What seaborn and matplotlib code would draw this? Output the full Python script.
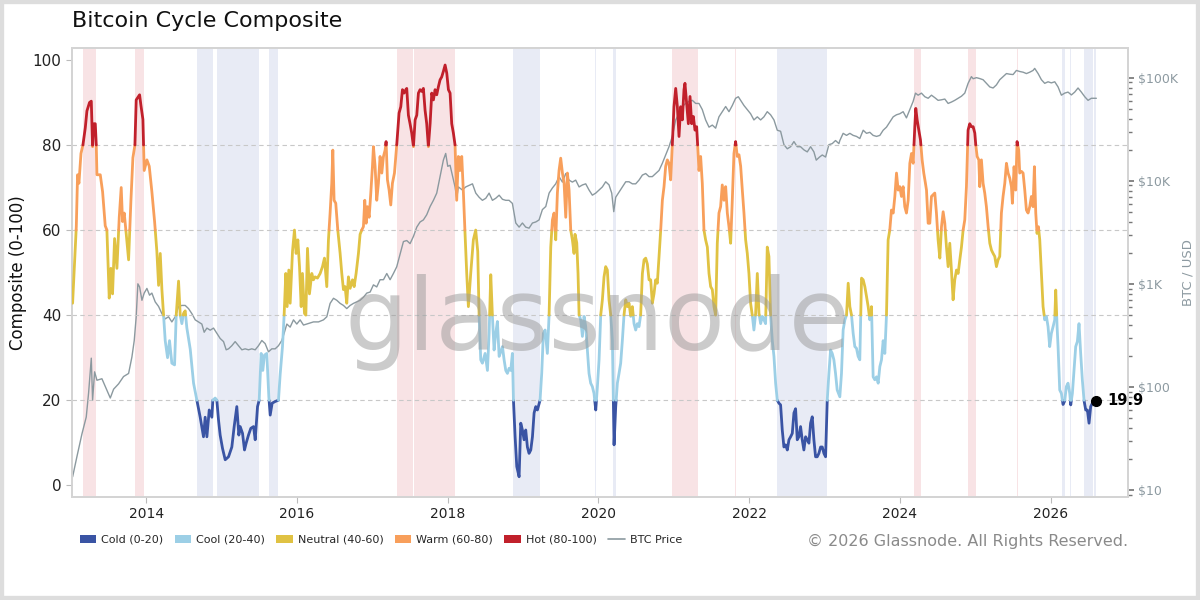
import numpy as np
import pandas as pd
import matplotlib
matplotlib.use("Agg")
import matplotlib.pyplot as plt
import seaborn as sns
from matplotlib.patches import Patch, Rectangle
from matplotlib.lines import Line2D
from matplotlib.ticker import FixedLocator, LogLocator, NullFormatter, FuncFormatter

# ---------------- data ----------------
comp_year = [
 2013.023,2013.072,2013.089,2013.107,2013.134,2013.160,2013.191,2013.213,2013.248,2013.271,2013.288,2013.302,2013.324,2013.337,2013.346,2013.390,2013.421,2013.456,2013.478,2013.509,
 2013.531,2013.553,2013.580,2013.611,2013.642,2013.668,2013.686,2013.708,2013.735,2013.766,2013.797,2013.823,2013.850,2013.867,2013.912,2013.929,2013.956,2013.973,2014.009,2014.040,
 2014.075,2014.111,2014.141,2014.164,2014.186,2014.208,2014.230,2014.252,2014.283,2014.309,2014.340,2014.376,2014.398,2014.429,2014.451,2014.473,2014.495,2014.517,2014.539,2014.584,
 2014.628,2014.672,2014.716,2014.760,2014.782,2014.805,2014.836,2014.871,2014.884,2014.915,2014.937,2014.959,2014.981,2015.012,2015.048,2015.092,2015.136,2015.167,2015.202,2015.229,
 2015.247,2015.278,2015.304,2015.326,2015.357,2015.388,2015.424,2015.446,2015.477,2015.499,2015.525,2015.547,2015.569,2015.600,2015.627,2015.645,2015.671,2015.711,2015.755,2015.777,
 2015.808,2015.830,2015.852,2015.870,2015.892,2015.910,2015.941,2015.967,2015.989,2016.012,2016.034,2016.056,2016.073,2016.100,2016.118,2016.140,2016.166,2016.197,2016.219,2016.241,
 2016.272,2016.308,2016.339,2016.365,2016.396,2016.418,2016.440,2016.462,2016.476,2016.493,2016.515,2016.542,2016.573,2016.595,2016.617,2016.639,2016.661,2016.683,2016.706,2016.737,
 2016.759,2016.785,2016.816,2016.838,2016.860,2016.882,2016.900,2016.918,2016.935,2016.958,2016.980,2017.002,2017.015,2017.037,2017.059,2017.081,2017.103,2017.126,2017.148,2017.170,
 2017.183,2017.201,2017.223,2017.245,2017.267,2017.294,2017.324,2017.355,2017.378,2017.400,2017.422,2017.444,2017.457,2017.479,2017.501,2017.523,2017.546,2017.568,2017.590,2017.612,
 2017.634,2017.656,2017.678,2017.700,2017.722,2017.744,2017.767,2017.789,2017.811,2017.833,2017.855,2017.877,2017.899,2017.921,2017.943,2017.966,2017.988,2018.010,2018.032,2018.054,
 2018.076,2018.098,2018.120,2018.142,2018.164,2018.187,2018.209,2018.231,2018.253,2018.275,2018.306,2018.341,2018.372,2018.399,2018.417,2018.439,2018.461,2018.497,2018.528,2018.550,
 2018.572,2018.594,2018.616,2018.638,2018.660,2018.683,2018.705,2018.727,2018.749,2018.771,2018.793,2018.815,2018.837,2018.859,2018.873,2018.895,2018.917,2018.948,2018.970,2018.992,
 2019.014,2019.036,2019.058,2019.080,2019.103,2019.125,2019.147,2019.169,2019.191,2019.226,2019.248,2019.270,2019.293,2019.323,2019.346,2019.368,2019.390,2019.412,2019.434,2019.456,
 2019.478,2019.500,2019.523,2019.545,2019.567,2019.589,2019.611,2019.633,2019.655,2019.677,2019.690,2019.713,2019.730,2019.744,2019.766,2019.788,2019.810,2019.832,2019.854,2019.876,
 2019.898,2019.920,2019.942,2019.965,2019.987,2020.009,2020.031,2020.053,2020.075,2020.097,2020.119,2020.141,2020.164,2020.186,2020.208,2020.230,2020.252,2020.274,2020.296,2020.318,
 2020.340,2020.363,2020.385,2020.407,2020.429,2020.451,2020.473,2020.495,2020.517,2020.539,2020.561,2020.584,2020.606,2020.628,2020.650,2020.672,2020.694,2020.716,2020.738,2020.760,
 2020.782,2020.805,2020.827,2020.849,2020.871,2020.893,2020.915,2020.937,2020.959,2020.981,2021.003,2021.026,2021.048,2021.070,2021.092,2021.114,2021.136,2021.149,2021.171,2021.194,
 2021.216,2021.238,2021.260,2021.282,2021.304,2021.317,2021.335,2021.357,2021.379,2021.401,2021.423,2021.446,2021.468,2021.490,2021.512,2021.534,2021.556,2021.578,2021.600,2021.622,
 2021.644,2021.667,2021.689,2021.711,2021.733,2021.755,2021.777,2021.799,2021.821,2021.843,2021.866,2021.888,2021.910,2021.932,2021.954,2021.976,2021.998,2022.020,2022.042,2022.064,
 2022.087,2022.109,2022.131,2022.153,2022.175,2022.197,2022.219,2022.241,2022.263,2022.285,2022.308,2022.330,2022.352,2022.374,2022.396,2022.418,2022.440,2022.462,2022.484,2022.507,
 2022.529,2022.551,2022.573,2022.595,2022.617,2022.639,2022.661,2022.683,2022.705,2022.727,2022.750,2022.772,2022.794,2022.816,2022.838,2022.860,2022.882,2022.904,2022.926,2022.949,
 2022.971,2022.993,2023.015,2023.037,2023.059,2023.081,2023.103,2023.125,2023.147,2023.169,2023.204,2023.226,2023.248,2023.271,2023.293,2023.315,2023.337,2023.359,2023.381,2023.403,
 2023.425,2023.447,2023.469,2023.492,2023.514,2023.536,2023.558,2023.580,2023.602,2023.624,2023.646,2023.668,2023.691,2023.713,2023.735,2023.757,2023.779,2023.801,2023.823,2023.845,
 2023.867,2023.889,2023.912,2023.934,2023.956,2023.978,2024.000,2024.022,2024.044,2024.066,2024.088,2024.111,2024.133,2024.155,2024.177,2024.199,2024.212,2024.230,2024.252,2024.274,
 2024.296,2024.318,2024.340,2024.354,2024.376,2024.398,2024.420,2024.442,2024.464,2024.486,2024.508,2024.531,2024.553,2024.575,2024.597,2024.619,2024.641,2024.663,2024.685,2024.707,
 2024.729,2024.752,2024.774,2024.796,2024.818,2024.840,2024.862,2024.884,2024.906,2024.928,2024.950,2024.973,2024.995,2025.008,2025.026,2025.048,2025.061,2025.083,2025.105,2025.127,
 2025.149,2025.172,2025.194,2025.216,2025.238,2025.260,2025.282,2025.304,2025.326,2025.348,2025.370,2025.393,2025.415,2025.437,2025.459,2025.481,2025.494,2025.516,2025.538,2025.556,
 2025.578,2025.591,2025.614,2025.636,2025.658,2025.680,2025.702,2025.724,2025.746,2025.768,2025.786,2025.804,2025.821,2025.839,2025.857,2025.879,2025.901,2025.923,2025.945,2025.967,
 2025.989,2026.011,2026.034,2026.056,2026.069,2026.087,2026.100,2026.122,2026.144,2026.166,2026.188,2026.210,2026.232,2026.255,2026.268,2026.290,2026.312,2026.334,2026.356,2026.378,
 2026.400,2026.422,2026.445,2026.467,2026.489,2026.511,2026.533,2026.555,2026.570,2026.590,2026.608,
]
comp_value = [
 42.8,60.8,73,71,78,80,84,88,90,90.3,79.6,85,85,80,73,73,69,61,60,44,
 51,45,58,51,63,70,62,64,59,53,67,77,80,90.6,91.8,89.4,86,74,76.5,75,
 69,62,55,47,54.5,46,40,34,30,34,28.7,28.3,40,48,40,38,40.4,41,37,32,
 24,20,16,11.4,16,11.4,17.7,16,20,20.5,20,15.4,11.8,8.7,6,6.7,9,13.8,18.5,11.8,
 13.8,12.2,8.3,9.9,11.8,13.4,13.8,10.7,18.5,20,31,27,30.6,31,20.8,16.5,19.3,19.7,20,26,
 32.6,40,49.8,42,50.6,42.8,55,60,54.5,57.7,51.4,42,49.8,40.4,40,55.7,45,49.8,48.3,49,
 48.7,49.8,51.4,53.4,46.7,57.7,64,71,78.8,67,66.3,60,54.5,49.8,46,46.7,42.8,49,46.3,48.3,
 46.7,49.8,54.5,59,60,60.8,67,61.6,65.5,63,68.7,75,79.6,75,67,71,77.3,73.4,77.3,78.8,
 80.8,71.8,69.4,65.9,71,73.4,80,87.5,89,93,92.2,93,93.3,87,85,82.8,79.6,85.9,87,92.2,
 93,92.6,93.3,88.2,85,79.6,85,92.2,90.6,93,91.8,93.7,95.3,96,97.3,98.8,96.9,93,92.2,85,
 82.8,80,67,77.3,74,77.3,68.7,59,49.8,42,49.8,57.7,60,55,40,29.5,28.7,31,27,35.7,
 49.5,39.7,31.8,35.7,38.5,30.3,31.4,32.6,29.5,27,26.3,27.5,27,31,20,11.4,4.4,2,14.6,13,
 10.7,13,9,7.5,8.3,11.4,17,18.5,17.7,20,26.3,35.7,36.5,31,40,56,62.4,64,57.7,68.7,
 74,76.9,73.4,71,63,73.4,69.4,60,57.7,54.5,59,57,49.8,40,38.9,35,39.7,37.3,31.8,26.3,
 24,23.2,21.6,17.7,23.2,29.5,40,43.6,49,51.4,50.6,43.6,40,34,9.5,18.5,24,26.3,28.7,34,
 40,43.6,42,42.8,39.7,42,38,36.5,38,37.3,40,49.8,53,53.4,52,48.3,48.3,42.8,45,48.3,
 47.5,53.8,60,67,70.2,75,76.5,75.7,71.8,80,89,93.3,89,82,89,85.9,93,94.5,89.8,85,
 91.4,85,86.7,83.5,84.3,80,74,77.3,71,60,57.7,56,49.8,46.7,46,42,40,56.9,64,65.5,
 70.6,67,70.2,64,60.8,56.9,67,78,80.8,77.3,77.7,75,69.4,64,57.7,54.5,49.8,42.8,40,36.5,
 40.4,49.8,40.4,38,39.7,38.9,38,56,53.8,40,34,30.3,24,20,19.3,18.9,13,9,9.5,8.3,
 10.7,11.4,12.2,17,18,10.7,11.4,13.8,10.7,8.3,11.4,10.7,9.9,14.6,16.1,10.7,6.7,6.7,7.5,9,
 9,7.5,6.7,20,26.3,31.8,31,29.5,26.3,22.4,20.8,26.3,36.5,38.9,40,47.5,42,40,35.7,32.6,
 32.2,30.3,29.5,48.7,48.3,46.7,44.4,42,38.9,42,25.5,24.8,25.5,24,27.9,29.5,34,31,40,57.7,
 60,64.7,64,67.9,73.4,69.4,70.2,67.9,70.2,65.5,64,67,75.7,78,75.7,84.3,88.6,85.9,83.5,81.2,
 76.5,73.4,71,69.4,61.6,61.6,67.9,68.3,68.7,64,57.7,53.4,60.8,64.3,61.6,56,51.4,56.9,50.6,43.6,
 48.3,50.6,49.8,53,56,60,62.4,70.2,83.5,85,84.3,84.3,82.8,80,77.3,76.5,70.2,76.5,71,68.7,
 65.5,60.8,56.9,55.3,54.5,53.8,51.4,53,53.8,64,67.9,71,75.7,73.4,72.2,70.2,66.3,74.9,69.4,80.8,
 78.8,73.4,73.8,73.4,69.4,64.7,64,65.5,67.9,65.5,74.9,64,59.2,60.8,57.7,49.8,42,38.9,39.7,37.3,
 32.6,35.7,37.3,38.9,45.9,37.3,32.6,22.4,21.6,19.0,19.8,23.2,24,21.6,18.9,21.6,27.1,32.6,33.8,38,
 31,24.8,19.9,17.7,17.7,14.6,18.5,19.3,20.2,19.6,19.9,
]

btc_year = [
 2013.023,2013.080,2013.147,2013.204,2013.235,2013.271,2013.288,2013.315,2013.346,2013.412,2013.478,2013.523,2013.567,2013.633,2013.699,2013.766,2013.810,2013.841,2013.867,2013.889,
 2013.912,2013.943,2013.973,2014.009,2014.044,2014.075,2014.119,2014.164,2014.208,2014.252,2014.296,2014.340,2014.385,2014.429,2014.473,2014.517,2014.561,2014.606,2014.650,2014.694,
 2014.738,2014.769,2014.805,2014.849,2014.893,2014.937,2014.981,2015.026,2015.061,2015.092,2015.136,2015.180,2015.225,2015.269,2015.313,2015.357,2015.401,2015.446,2015.490,2015.534,
 2015.578,2015.622,2015.667,2015.711,2015.755,2015.799,2015.830,2015.866,2015.910,2015.954,2015.998,2016.042,2016.087,2016.131,2016.175,2016.219,2016.286,2016.352,2016.396,2016.440,
 2016.485,2016.529,2016.573,2016.617,2016.661,2016.706,2016.750,2016.794,2016.838,2016.882,2016.927,2016.971,2017.015,2017.059,2017.103,2017.148,2017.192,2017.236,2017.280,2017.324,
 2017.369,2017.413,2017.457,2017.501,2017.546,2017.590,2017.634,2017.678,2017.722,2017.767,2017.811,2017.855,2017.899,2017.943,2017.974,2018.001,2018.032,2018.067,2018.098,2018.120,
 2018.142,2018.196,2018.240,2018.329,2018.373,2018.417,2018.461,2018.506,2018.550,2018.594,2018.638,2018.683,2018.727,2018.771,2018.815,2018.859,2018.904,2018.948,2018.992,2019.036,
 2019.080,2019.125,2019.169,2019.213,2019.257,2019.302,2019.346,2019.390,2019.434,2019.478,2019.523,2019.567,2019.611,2019.655,2019.699,2019.744,2019.788,2019.832,2019.876,2019.920,
 2019.965,2020.009,2020.053,2020.097,2020.141,2020.177,2020.204,2020.230,2020.274,2020.318,2020.363,2020.407,2020.451,2020.495,2020.539,2020.584,2020.628,2020.672,2020.716,2020.760,
 2020.805,2020.849,2020.893,2020.937,2020.981,2021.026,2021.070,2021.114,2021.158,2021.203,2021.247,2021.291,2021.335,2021.379,2021.423,2021.468,2021.512,2021.556,2021.600,2021.644,
 2021.689,2021.733,2021.777,2021.821,2021.857,2021.888,2021.932,2021.976,2022.020,2022.064,2022.109,2022.153,2022.197,2022.241,2022.285,2022.330,2022.374,2022.418,2022.462,2022.507,
 2022.551,2022.595,2022.639,2022.683,2022.727,2022.772,2022.816,2022.860,2022.891,2022.935,2022.971,2023.015,2023.059,2023.103,2023.147,2023.192,2023.204,2023.248,2023.293,2023.337,
 2023.381,2023.425,2023.469,2023.514,2023.558,2023.602,2023.646,2023.691,2023.735,2023.779,2023.823,2023.867,2023.912,2023.956,2024.000,2024.044,2024.088,2024.133,2024.177,2024.208,
 2024.243,2024.287,2024.332,2024.376,2024.420,2024.464,2024.508,2024.553,2024.597,2024.641,2024.685,2024.729,2024.774,2024.818,2024.862,2024.906,2024.950,2024.973,2025.017,2025.061,
 2025.105,2025.149,2025.194,2025.238,2025.282,2025.326,2025.370,2025.415,2025.459,2025.503,2025.547,2025.591,2025.636,2025.680,2025.724,2025.768,2025.790,2025.835,2025.879,2025.923,
 2025.967,2026.011,2026.056,2026.100,2026.144,2026.188,2026.232,2026.277,2026.321,2026.365,2026.409,2026.454,2026.498,2026.542,2026.608,
]
btc_price = [
 13.4,21,35,51,87,190,74,140,116,120,93,78,95,107,126,135,195,282,479,1000,
 933,692,813,902,776,813,668,603,513,457,479,427,479,603,617,617,575,513,447,427,
 407,339,372,355,372,331,295,275,229,234,251,275,251,229,234,229,234,229,251,282,
 263,219,234,234,251,282,331,407,380,447,407,447,398,407,417,427,427,447,479,646,
 724,692,646,617,575,617,646,668,692,741,813,832,977,933,1096,1096,1259,1096,1259,1462,
 1950,2570,2630,2455,2884,3548,3981,4169,4677,5623,6457,7586,10965,15849,18408,13804,14125,10965,8710,6761,
 8710,8128,8710,9333,7586,6918,6457,6761,7586,6457,6761,7244,6607,6457,6457,6026,3890,3548,3890,3548,
 3467,3890,3981,4169,5248,5623,7586,8511,9333,10965,9700,11750,10139,9700,10139,8710,9100,9333,8128,7244,
 7586,8128,8710,9772,9120,7586,5012,6918,7762,8710,9772,9772,9333,9333,10139,11350,11750,10965,10965,11750,
 12590,14790,17780,21380,26920,38900,44670,52480,56230,58880,60260,56230,56230,48980,38900,33110,34670,32360,41690,46770,
 52480,46770,53700,63100,65310,60260,53700,48980,44670,38900,41690,38900,41690,46770,43650,38900,30900,30200,22390,20420,
 21380,23990,21380,21380,19950,19050,21380,19050,15850,16980,17780,16980,22390,22910,24550,22910,24550,28840,27540,28840,
 27540,26920,25700,30900,28840,29510,27540,26920,27540,30900,33110,37150,41690,43650,44670,46770,40740,48980,58880,70790,
 67610,70790,65310,63100,67610,64000,60260,61000,62000,56230,58000,60260,63100,66070,70790,88100,102300,97700,100000,98000,
 95500,88100,81300,79400,85100,95500,102300,109600,108000,107200,117500,114800,113000,109600,113000,117500,123000,109600,95500,88100,
 91200,89000,91200,81300,67610,70790,72440,68000,72440,79400,72440,65310,60260,63100,63100,
]

zone_names = ["Cold (0-20)", "Cool (20-40)", "Neutral (40-60)", "Warm (60-80)", "Hot (80-100)"]
zone_bounds = [(0, 20), (20, 40), (40, 60), (60, 80), (80, 100)]
zone_colors = ["#3a54a4", "#9ccfe6", "#e0c243", "#f89f5b", "#c1202b"]
year_ticks = [2014, 2016, 2018, 2020, 2022, 2024, 2026]
comp_ticks = [0, 20, 40, 60, 80, 100]
price_ticks = [10, 100, 1000, 10000, 100000]
price_labels = ["$10", "$100", "$1K", "$10K", "$100K"]

# ---------------- helpers ----------------
def densify(x, y, thr):
    xs, ys = [x[0]], [y[0]]
    for i in range(len(x) - 1):
        x0, y0, x1, y1 = x[i], y[i], x[i + 1], y[i + 1]
        cr = []
        for t in thr:
            if (y0 - t) * (y1 - t) < 0:
                xt = x0 + (t - y0) * (x1 - x0) / (y1 - y0)
                cr.append((xt, t))
        cr.sort()
        for xt, t in cr:
            xs.append(xt); ys.append(t)
        xs.append(x1); ys.append(y1)
    return np.array(xs), np.array(ys)

def runs(mask):
    out = []
    start = None
    for i, m in enumerate(mask):
        if m and start is None:
            start = i
        elif not m and start is not None:
            out.append((start, i - 1)); start = None
    if start is not None:
        out.append((start, len(mask) - 1))
    return out

x = np.array(comp_year); y = np.array(comp_value)
dx, dy = densify(x, y, [20, 40, 60, 80])
mid = (dy[:-1] + dy[1:]) / 2

XLIM = (2013.015, 2027.028)

# ---------------- figure ----------------
sns.set_theme(style="white")
plt.rcParams["font.family"] = ["DejaVu Sans"]
fig = plt.figure(figsize=(12, 6), dpi=100)
ax = fig.add_axes([0.06, 0.1717, 0.88, 0.7483])
ax2 = ax.twinx()
ax.set_zorder(ax2.get_zorder() + 1)
ax.patch.set_visible(False)
ax2.patch.set_visible(True)
ax2.patch.set_facecolor("white")

# regime shading (on the back axes)
for (lo, hi), col in [((80, 101), "#f8e3e5"), ((-1, 20), "#e8ebf5")]:
    segmask = (mid > lo) & (mid < hi)
    for a, b in runs(segmask):
        ax2.axvspan(dx[a], dx[b + 1], color=col, lw=0, zorder=0)

# BTC price on log twin axis
sns.lineplot(x=btc_year, y=btc_price, ax=ax2, color="#8b999f", lw=1.0, zorder=2)
ax2.set_yscale("log")
ax2.set_ylim(8.55, 194000)

for g in [20, 40, 60, 80]:
    ax.axhline(g, color="#c8c8c8", lw=0.8, ls=(0, (4, 3)), zorder=1)

# composite, coloured by zone
for (lo, hi), col in zip(zone_bounds, zone_colors):
    segmask = (mid >= lo) & (mid <= hi)
    rows = []
    for k, (a, b) in enumerate(runs(segmask)):
        for j in range(a, b + 2):
            rows.append((dx[j], dy[j], k))
    if rows:
        df = pd.DataFrame(rows, columns=["year", "value", "run"])
        sns.lineplot(data=df, x="year", y="value", units="run", estimator=None,
                     sort=False, color=col, lw=2.0, ax=ax, zorder=3)

ax.set_xlim(*XLIM)
ax2.set_xlim(*XLIM)
ax.set_ylim(-2.75, 102.8)

# last point marker
ax.plot([comp_year[-1]], [comp_value[-1]], "o", color="black", ms=7, zorder=6, clip_on=False)
ax.text(comp_year[-1] + 0.15, comp_value[-1], f"{comp_value[-1]:.1f}", fontsize=10.5,
        fontweight="bold", color="black", va="center", ha="left", zorder=6, clip_on=False)

# watermark
fig.text(0.498, 0.463, "glassnode", fontsize=72, color="#999999", alpha=0.5,
         ha="center", va="center", zorder=10)

# axes styling
ax.set_xticks(year_ticks)
ax.set_xticklabels([str(t) for t in year_ticks], fontsize=10, color="#222222")
ax.set_yticks(comp_ticks)
ax.set_yticklabels([str(t) for t in comp_ticks], fontsize=11, color="#222222")
ax.set_xlabel("")
ax.set_ylabel("Composite (0-100)", fontsize=12, color="#111111", labelpad=4)
ax.tick_params(axis="both", which="major", length=4, width=0.8, color="#bbbbbb", left=True, bottom=True)
ax2.yaxis.set_major_locator(FixedLocator(price_ticks))
ax2.yaxis.set_major_formatter(FuncFormatter(lambda v, p: price_labels[price_ticks.index(int(round(v)))] if int(round(v)) in price_ticks else ""))
ax2.yaxis.set_minor_locator(LogLocator(base=10, subs=np.arange(2, 10)))
ax2.yaxis.set_minor_formatter(NullFormatter())
ax2.tick_params(axis="y", which="major", labelsize=9, labelcolor="#8d9aa1", length=4, color="#777777", right=True)
ax2.tick_params(axis="y", which="minor", length=3, color="#777777", right=True)
ax2.set_ylabel("BTC / USD", fontsize=9.5, color="#8d9aa1", labelpad=2)
ax2.set_xlabel("")
ax2.grid(False); ax.grid(False)

for a in (ax, ax2):
    for s in a.spines.values():
        s.set_color("#d4d4d4")
        s.set_linewidth(1.3)

# title
fig.text(0.06, 0.965, "Bitcoin Cycle Composite", fontsize=16, color="#111111",
         ha="left", va="center")

# legend
handles = [Patch(facecolor=c, edgecolor="none") for c in zone_colors]
handles.append(Line2D([0], [0], color="#8b999f", lw=1.2))
fig.legend(handles, zone_names + ["BTC Price"], loc="center left",
           bbox_to_anchor=(0.058, 0.1), ncol=6, frameon=False, fontsize=8,
           handlelength=1.5, handleheight=0.7, handletextpad=0.45, columnspacing=1.0)

fig.text(0.94, 0.098, "\u00a9 2026 Glassnode. All Rights Reserved.", fontsize=11.5,
         color="#8a8a8a", ha="right", va="center")

# outer border
fig.patches.append(Rectangle((0, 0), 1, 1, transform=fig.transFigure, fill=False,
                             edgecolor="#dddddd", lw=6, zorder=20))

fig.savefig("out.png", dpi=100)
